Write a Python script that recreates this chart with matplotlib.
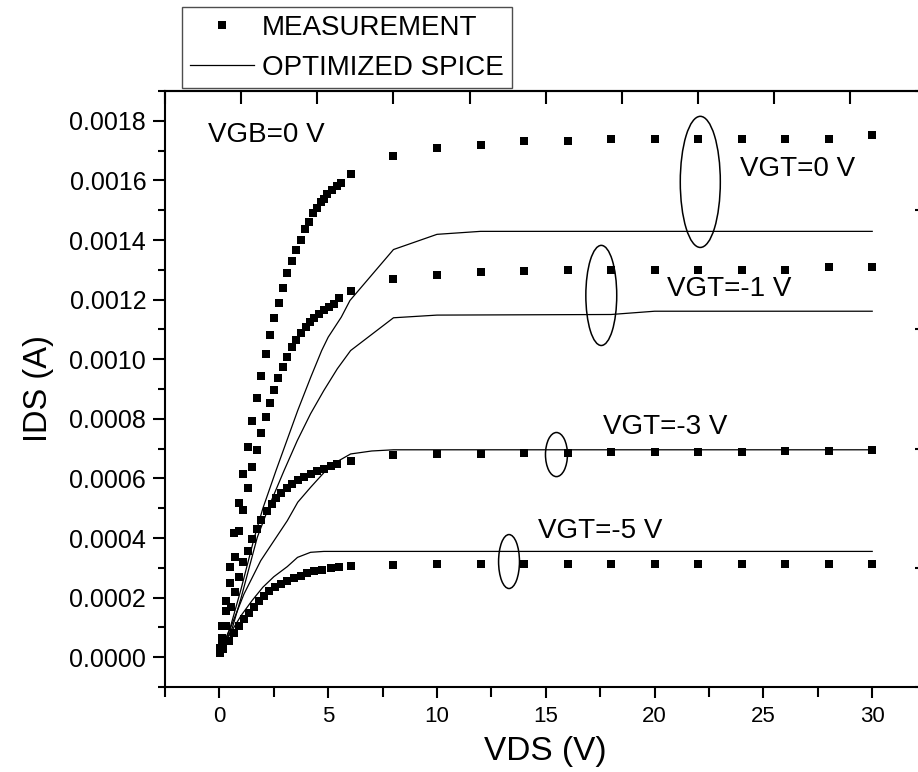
import matplotlib.pyplot as plt
import numpy as np
from matplotlib.patches import Ellipse
from matplotlib.ticker import FixedLocator, FormatStrFormatter, MultipleLocator, NullFormatter

plt.rcParams["font.family"] = ["Liberation Sans", "DejaVu Sans"]

vds_meas_0 = [0.05, 0.14, 0.29, 0.49, 0.67, 0.90, 1.10, 1.31, 1.52, 1.71, 1.93, 2.13, 2.32,
              2.51, 2.74, 2.92, 3.12, 3.32, 3.54, 3.73, 3.93, 4.11, 4.32, 4.50, 4.65, 4.80,
              4.96, 5.19, 5.39, 5.57, 6.03,
              8, 10, 12, 14, 16, 18, 20, 22, 24, 26, 28, 30]
ids_meas_0 = [0.030, 0.106, 0.187, 0.304, 0.416, 0.517, 0.615, 0.705, 0.792, 0.871, 0.945,
              1.018, 1.080, 1.139, 1.189, 1.240, 1.289, 1.329, 1.368, 1.399, 1.438, 1.460,
              1.491, 1.509, 1.527, 1.539, 1.553, 1.569, 1.580, 1.591, 1.621,
              1.681, 1.708, 1.718, 1.731, 1.731, 1.738, 1.738, 1.738, 1.740, 1.738, 1.738, 1.751]

vds_meas_1 = [0.05, 0.14, 0.29, 0.49, 0.70, 0.90, 1.10, 1.31, 1.52, 1.71, 1.90, 2.13, 2.31,
              2.51, 2.71, 2.92, 3.12, 3.32, 3.50, 3.73, 3.96, 4.16, 4.34, 4.57, 4.80, 5.03,
              5.26, 5.49, 6.03,
              8, 10, 12, 14, 16, 18, 20, 22, 24, 26, 28, 30]
ids_meas_1 = [0.025, 0.066, 0.154, 0.248, 0.337, 0.422, 0.494, 0.568, 0.637, 0.696, 0.753,
              0.805, 0.852, 0.897, 0.936, 0.973, 1.009, 1.040, 1.063, 1.089, 1.108, 1.124,
              1.139, 1.153, 1.164, 1.175, 1.186, 1.205, 1.229,
              1.270, 1.281, 1.291, 1.295, 1.298, 1.298, 1.298, 1.298, 1.298, 1.298, 1.311, 1.311]

vds_meas_3 = [0.05, 0.14, 0.29, 0.52, 0.70, 0.90, 1.10, 1.31, 1.52, 1.71, 1.93, 2.17, 2.40,
              2.62, 2.85, 3.09, 3.35, 3.61, 3.88, 4.19, 4.50, 4.80, 5.11, 5.42, 6.03,
              8, 10, 12, 14, 16, 18, 20, 22, 24, 26, 28, 30]
ids_meas_3 = [0.020, 0.055, 0.106, 0.167, 0.218, 0.268, 0.318, 0.358, 0.395, 0.431, 0.461,
              0.490, 0.515, 0.535, 0.550, 0.568, 0.582, 0.595, 0.606, 0.615, 0.624, 0.632,
              0.640, 0.649, 0.660,
              0.677, 0.682, 0.682, 0.686, 0.686, 0.688, 0.688, 0.690, 0.690, 0.693, 0.693, 0.694]

vds_meas_5 = [0.05, 0.15, 0.43, 0.66, 0.90, 1.13, 1.36, 1.59, 1.82, 2.05, 2.28, 2.54, 2.81,
              3.12, 3.43, 3.73, 4.04, 4.34, 4.73, 5.11, 5.49, 6.03,
              8, 10, 12, 14, 16, 18, 20, 22, 24, 26, 28, 30]
ids_meas_5 = [0.015, 0.029, 0.055, 0.082, 0.106, 0.128, 0.150, 0.170, 0.190, 0.207, 0.221,
              0.234, 0.246, 0.257, 0.266, 0.274, 0.281, 0.288, 0.294, 0.300, 0.304, 0.307,
              0.311, 0.313, 0.313, 0.313, 0.313, 0.313, 0.313, 0.313, 0.313, 0.313, 0.313, 0.313]

# optimized SPICE curves
vds_sp_0 = [0.05, 0.5, 1.0, 1.6, 2.0, 2.6, 3.1, 3.6, 4.2, 4.7, 5.0, 5.6, 6.0, 8.0, 10.0, 12.0, 30.0]
ids_sp_0 = [0.02, 0.10, 0.23, 0.40, 0.50, 0.626, 0.727, 0.828, 0.940, 1.029, 1.074, 1.141,
            1.197, 1.368, 1.419, 1.429, 1.429]

vds_sp_1 = [0.05, 0.6, 1.0, 1.74, 2.3, 2.97, 3.58, 4.19, 4.80, 5.42, 6.03, 8.0, 10.0, 18.0, 20.0, 30.0]
ids_sp_1 = [0.02, 0.10, 0.20, 0.402, 0.51, 0.626, 0.727, 0.817, 0.895, 0.968, 1.029, 1.139,
            1.148, 1.150, 1.161, 1.161]

vds_sp_3 = [0.05, 0.52, 1.13, 1.9, 2.5, 3.12, 3.6, 4.19, 4.96, 5.5, 6.03, 7.0, 8.0, 30.0]
ids_sp_3 = [0.02, 0.10, 0.212, 0.324, 0.39, 0.458, 0.52, 0.570, 0.632, 0.66, 0.682, 0.692,
            0.696, 0.696]

vds_sp_5 = [0.05, 0.5, 1.0, 1.5, 2.0, 2.5, 3.12, 3.59, 4.19, 4.8, 5.5, 30.0]
ids_sp_5 = [0.015, 0.08, 0.14, 0.19, 0.235, 0.27, 0.304, 0.335, 0.352, 0.355, 0.355, 0.355]

labels = ["VGT=0 V", "VGT=-1 V", "VGT=-3 V", "VGT=-5 V"]
label_pos = [(23.93, 1.637e-3), (20.58, 1.234e-3), (17.65, 0.771e-3), (14.66, 0.425e-3)]
# ellipse marks: (x, y, width, height)
ellipses = [(22.10, 1.595e-3, 1.84, 0.440e-3), (17.55, 1.214e-3, 1.42, 0.336e-3),
            (15.49, 0.680e-3, 1.01, 0.148e-3), (13.31, 0.321e-3, 0.96, 0.181e-3)]


def main():
    fig = plt.figure(figsize=(9.18, 7.72), dpi=100)
    ax = fig.add_axes([165 / 918, 1 - 687 / 772, (926.6 - 165) / 918, (687 - 91) / 772])

    meas = [(vds_meas_0, ids_meas_0), (vds_meas_1, ids_meas_1),
            (vds_meas_3, ids_meas_3), (vds_meas_5, ids_meas_5)]
    spice = [(vds_sp_0, ids_sp_0), (vds_sp_1, ids_sp_1),
             (vds_sp_3, ids_sp_3), (vds_sp_5, ids_sp_5)]

    for i, (x, y) in enumerate(meas):
        ax.plot(x, np.array(y) * 1e-3, linestyle="none", marker="s", ms=5.3, mew=0,
                color="black", label="MEASUREMENT" if i == 0 else None, zorder=3)
    for i, (x, y) in enumerate(spice):
        ax.plot(x, np.array(y) * 1e-3, color="black", lw=0.9,
                label="OPTIMIZED SPICE" if i == 0 else None, zorder=2)

    for (cx, cy, w, h) in ellipses:
        ax.add_patch(Ellipse((cx, cy), w, h, fill=False, edgecolor="black", lw=1.1, zorder=4))

    for text, (tx, ty) in zip(labels, label_pos):
        ax.text(tx, ty, text, fontsize=20, ha="left", va="center")
    ax.text(-0.54, 1.751e-3, "VGB=0 V", fontsize=20, ha="left", va="center")

    ax.set_xlim(-2.5, 32.5)
    ax.set_ylim(-0.0001, 0.0019)

    ax.xaxis.set_major_locator(FixedLocator(np.arange(0, 31, 5)))
    ax.xaxis.set_minor_locator(FixedLocator(np.arange(-2.5, 33, 5)))
    ax.yaxis.set_major_locator(FixedLocator(np.arange(0, 0.00181, 0.0002)))
    ax.yaxis.set_minor_locator(MultipleLocator(0.0001))
    ax.yaxis.set_major_formatter(FormatStrFormatter("%.4f"))

    ax.tick_params(axis="both", which="both", direction="out", width=1.5,
                   top=False, right=False)
    ax.tick_params(axis="x", which="major", length=8, labelsize=16, pad=6)
    ax.tick_params(axis="x", which="minor", length=7)
    ax.tick_params(axis="y", which="major", length=8.5, labelsize=18, pad=5)
    ax.tick_params(axis="y", which="minor", length=5)

    for s in ax.spines.values():
        s.set_linewidth(1.5)

    top = ax.secondary_xaxis("top")
    top.xaxis.set_major_locator(FixedLocator(np.arange(-2.5, 33, 3.5)))
    top.xaxis.set_major_formatter(NullFormatter())
    top.tick_params(direction="in", length=9, width=1.5)
    top.spines["top"].set_linewidth(1.5)

    right = ax.secondary_yaxis("right")
    right.yaxis.set_major_locator(FixedLocator(np.arange(-0.0001, 0.00191, 0.0004)))
    right.yaxis.set_major_formatter(NullFormatter())
    right.tick_params(direction="in", length=9, width=1.5)

    ax.set_xlabel("VDS (V)", fontsize=24, labelpad=6)
    ax.set_ylabel("IDS (A)", fontsize=23.5, labelpad=11)

    leg = fig.legend(loc="upper left", bbox_to_anchor=(182 / 918, 1 - 7 / 772),
                     fontsize=20, frameon=True, fancybox=False, borderpad=0.28,
                     handlelength=2.3, handletextpad=0.3, labelspacing=0.5,
                     borderaxespad=0)
    leg.get_frame().set_edgecolor("#222222")
    leg.get_frame().set_linewidth(1.0)

    fig.savefig("out.png", dpi=100)


if __name__ == "__main__":
    main()
